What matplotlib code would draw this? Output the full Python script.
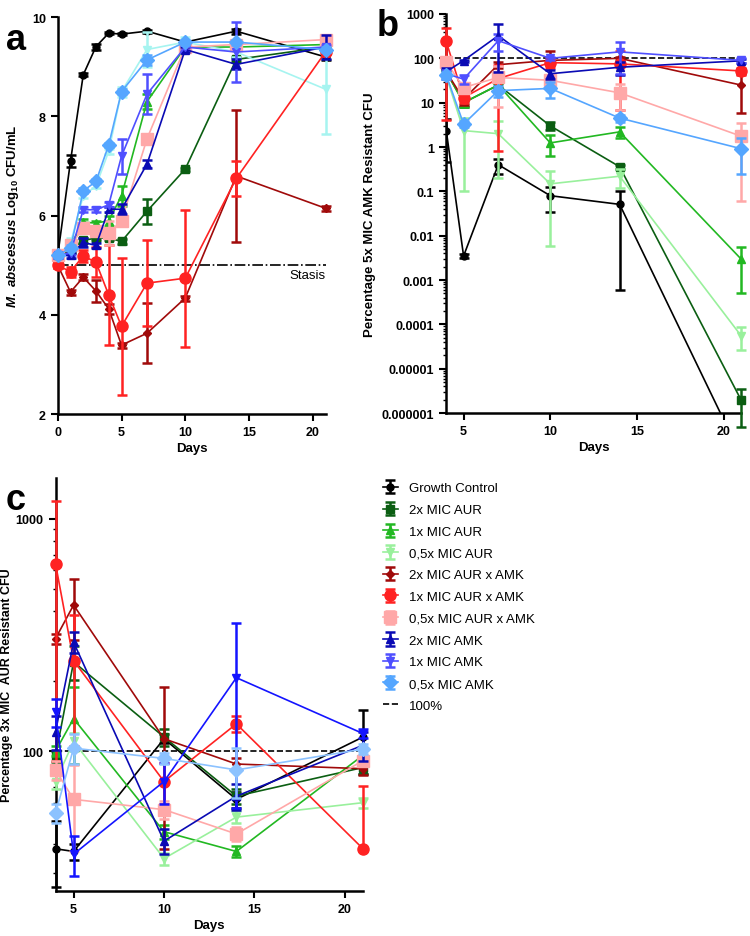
import numpy as np
import matplotlib
matplotlib.use('Agg')
import matplotlib.pyplot as plt
from matplotlib.ticker import LogLocator, NullFormatter

plt.rcParams['font.family'] = ['Liberation Sans', 'DejaVu Sans']
plt.rcParams['mathtext.fontset'] = 'custom'
plt.rcParams['mathtext.rm'] = 'Liberation Sans:bold'
plt.rcParams['mathtext.it'] = 'Liberation Sans:italic:bold'
plt.rcParams['mathtext.bf'] = 'Liberation Sans:bold'

labels = ['Growth Control', '2x MIC AUR', '1x MIC AUR', '0,5x MIC AUR',
          '2x MIC AUR x AMK', '1x MIC AUR x AMK', '0,5x MIC AUR x AMK',
          '2x MIC AMK', '1x MIC AMK', '0,5x MIC AMK']
colors = ['#000000', '#0b5e12', '#22b822', '#99f09c', '#a00a0a', '#ff2222',
          '#ffa8a8', '#0a0ab4', '#4f4fff', '#55a6ff']
markers = ['o', 's', '^', 'v', 'D', 'o', 's', '^', 'v', 'D']
msizes = [5, 6, 6, 6, 4.5, 8, 8, 6, 6, 7]

# ---- panel a: log10 CFU/mL ----
days_a = [0, 1, 2, 3, 4, 5, 7, 10, 14, 21]
a_gc = [5.2, 7.1, 8.84, 9.41, 9.68, 9.66, 9.72, 9.5, 9.72, 9.2]
a_gc_err = [0.05, 0.12, 0.03, 0.06, 0.02, 0.02, 0.03, 0.03, 0.05, 0.07]
a_aur2 = [5.2, 5.3, 5.5, 5.55, 5.55, 5.48, 6.09, 6.94, 9.15, 9.4]
a_aur2_err = [0.05, 0.05, 0.05, 0.05, 0.05, 0.05, 0.25, 0.03, 0.05, 0.05]
a_aur1 = [5.2, 5.4, 5.87, 5.85, 5.9, 6.4, 8.3, 9.4, 9.4, 9.45]
a_aur1_err = [0.05, 0.05, 0.06, 0.05, 0.1, 0.2, 0.15, 0.05, 0.05, 0.05]
a_aur05 = [5.2, 5.45, 6.4, 6.6, 7.3, 8.5, 9.35, 9.5, 9.3, 8.55]
a_aur05_err = [0.05, 0.1, 0.05, 0.05, 0.05, 0.1, 0.35, 0.1, 0.1, 0.9]
a_mix2 = [5.0, 4.46, 4.76, 4.48, 4.12, 3.39, 3.63, 4.34, 6.8, 6.15]
a_mix2_err = [0.05, 0.05, 0.06, 0.22, 0.1, 0.05, 0.6, 0.05, 1.33, 0.05]
a_mix1 = [5.0, 4.87, 5.19, 5.06, 4.4, 3.77, 4.64, 4.74, 6.75, 9.3]
a_mix1_err = [0.05, 0.1, 0.12, 0.3, 1.0, 1.38, 0.86, 1.38, 0.35, 0.05]
a_mix05 = [5.2, 5.4, 5.75, 5.7, 5.65, 5.9, 7.55, 9.4, 9.45, 9.55]
a_mix05_err = [0.05, 0.05, 0.05, 0.05, 0.25, 0.05, 0.1, 0.05, 0.05, 0.05]
a_amk2 = [5.2, 5.2, 5.46, 5.4, 6.13, 6.13, 7.04, 9.35, 9.05, 9.4]
a_amk2_err = [0.05, 0.05, 0.1, 0.05, 0.05, 0.1, 0.08, 0.05, 0.1, 0.25]
a_amk1 = [5.2, 5.25, 6.12, 6.12, 6.22, 7.2, 8.45, 9.4, 9.3, 9.4]
a_amk1_err = [0.05, 0.05, 0.05, 0.05, 0.05, 0.35, 0.4, 0.05, 0.6, 0.05]
a_amk05 = [5.2, 5.35, 6.5, 6.69, 7.43, 8.5, 9.14, 9.5, 9.5, 9.35]
a_amk05_err = [0.05, 0.05, 0.05, 0.04, 0.04, 0.05, 0.1, 0.05, 0.05, 0.05]

# ---- panel b: % 5x MIC AMK resistant ----
days_b = [4, 5, 7, 10, 14, 21]
b_gc = [2.36, 0.0035, 0.4, 0.08, 0.051, 1.1e-7]
b_gc_err = [1.9, 0.0003, 0.15, 0.045, 0.0504, 0]
b_aur2 = [50, 10, 25, 3.0, 0.36, 2e-6]
b_aur2_err = [5, 2, 3, 0.6, 0.04, 1.5e-6]
b_aur1 = [50, 10, 25, 1.24, 2.2, 0.003]
b_aur1_err = [5, 2, 3, 0.6, 0.6, 0.0025]
b_aur05 = [40, 2.35, 2.0, 0.148, 0.22, 5.6e-5]
b_aur05_err = [5, 2.25, 1.8, 0.142, 0.1, 3e-5]
b_mix2 = [50, 12, 72, 90, 100, 25]
b_mix2_err = [10, 3, 10, 60, 10, 19]
b_mix1 = [240, 13, 35, 80, 75, 52]
b_mix1_err = [236, 3, 34.2, 20, 68, 10]
b_mix05 = [82, 22, 37, 32, 16.7, 1.76]
b_mix05_err = [10, 3, 29, 3, 10, 1.7]
b_amk2 = [50, 89, 325, 45, 63, 88]
b_amk2_err = [10, 5, 275, 10, 20, 10]
b_amk1 = [45, 34, 250, 100, 140, 90]
b_amk1_err = [10, 8, 100, 10, 95, 10]
b_amk05 = [42, 3.3, 18.7, 21, 4.5, 0.92]
b_amk05_err = [8, 0.5, 5, 8, 0.8, 0.67]

# ---- panel c: % 3x MIC AUR resistant ----
days_c = [4, 5, 10, 14, 21]
c_gc = [38, 37, 113, 62, 115]
c_gc_err = [12, 3, 5, 5, 35]
c_aur2 = [95, 242, 115, 64, 85]
c_aur2_err = [5, 40, 10, 5, 5]
c_aur1 = [100, 138, 45, 37, 96]
c_aur1_err = [5, 50, 3, 2, 5]
c_aur05 = [74, 110, 34.5, 52, 60]
c_aur05_err = [5, 10, 2, 3, 3]
c_mix2 = [305, 425, 113, 88, 84]
c_mix2_err = [15, 125, 75, 5, 5]
c_mix1 = [641, 245, 74, 131, 38]
c_mix1_err = [550, 140, 15, 10, 33]
c_mix1_lo = [550, 140, 15, 10, 0]   # lower bar not shown at day 21
c_mix05 = [83, 62, 56, 44, 91]
c_mix05_err = [8, 25, 5, 3, 5]
c_amk2 = [121, 294, 41, 64, 106]
c_amk2_err = [20, 30, 5, 8, 15]
c_amk1 = [147, 36, 74, 207, 119]
c_amk1_err = [20, 7, 15, 150, 5]
c_amk05 = [54, 103, 93, 83, 102]
c_amk05_err = [5, 15, 5, 20, 5]

series_a = [(a_gc, a_gc_err), (a_aur2, a_aur2_err), (a_aur1, a_aur1_err), (a_aur05, a_aur05_err),
            (a_mix2, a_mix2_err), (a_mix1, a_mix1_err), (a_mix05, a_mix05_err),
            (a_amk2, a_amk2_err), (a_amk1, a_amk1_err), (a_amk05, a_amk05_err)]
series_b = [(b_gc, b_gc_err), (b_aur2, b_aur2_err), (b_aur1, b_aur1_err), (b_aur05, b_aur05_err),
            (b_mix2, b_mix2_err), (b_mix1, b_mix1_err), (b_mix05, b_mix05_err),
            (b_amk2, b_amk2_err), (b_amk1, b_amk1_err), (b_amk05, b_amk05_err)]
series_c = [(c_gc, c_gc_err), (c_aur2, c_aur2_err), (c_aur1, c_aur1_err), (c_aur05, c_aur05_err),
            (c_mix2, c_mix2_err), (c_mix1, c_mix1_err, c_mix1_lo), (c_mix05, c_mix05_err),
            (c_amk2, c_amk2_err), (c_amk1, c_amk1_err), (c_amk05, c_amk05_err)]

fig = plt.figure(figsize=(7.5, 9.37), dpi=100)
ax_a = fig.add_axes([0.077, 0.557, 0.357, 0.4235])
ax_b = fig.add_axes([0.595, 0.558, 0.393, 0.426])
ax_c = fig.add_axes([0.074, 0.048, 0.41, 0.441])


def draw(ax, days, series, log=False, recolor=None, clip_gc=False):
    recolor = recolor or {}
    handles = []
    for i, s in enumerate(series):
        col = recolor.get(i, colors[i])
        vals = np.array(s[0], dtype=float)
        err = np.array(s[1], dtype=float)
        lo = np.array(s[2], dtype=float) if len(s) > 2 else err
        if log:
            lo = np.minimum(lo, vals * 0.999)
        yerr = [lo, err]
        clip = clip_gc and i == 0
        h = ax.errorbar(days, vals, yerr=yerr, color=col, marker=markers[i],
                        ms=msizes[i], lw=1.2, elinewidth=1.8, capsize=3.5,
                        capthick=1.8, clip_on=clip, zorder=3 + i * 0.1)
        handles.append(h)
    return handles


def style(ax):
    for s in ['top', 'right']:
        ax.spines[s].set_visible(False)
    for s in ['left', 'bottom']:
        ax.spines[s].set_linewidth(1.8)
    ax.tick_params(which='major', length=5, width=1.5, labelsize=9)
    ax.tick_params(which='minor', length=2.5, width=1.0)
    for t in ax.get_xticklabels() + ax.get_yticklabels():
        t.set_fontweight('bold')


# panel a
draw(ax_a, days_a, series_a, recolor={3: '#a6f4f0'})
ax_a.plot([0, 21], [5, 5], color='black', ls='-.', lw=1.2, zorder=2)
ax_a.text(21, 4.93, 'Stasis', ha='right', va='top', fontsize=9.5)
ax_a.set_xlim(0, 21)
ax_a.set_ylim(2, 10)
ax_a.set_xticks([0, 5, 10, 15, 20])
ax_a.set_yticks([2, 4, 6, 8, 10])
ax_a.set_xlabel('Days', fontsize=9.5, fontweight='bold', labelpad=3)
ax_a.set_ylabel(r'$\it{M.\ abscessus}$ Log$_{10}$ CFU/mL', fontsize=9.5, fontweight='bold', labelpad=8)
style(ax_a)

# panel b
handles = draw(ax_b, days_b, series_b, log=True, clip_gc=True)
ax_b.set_yscale('log')
ax_b.plot([4, 21], [100, 100], color='black', ls='--', lw=1.2, zorder=2)
ax_b.set_xlim(4, 21)
ax_b.set_ylim(1e-6, 1000)
ax_b.set_xticks([5, 10, 15, 20])
b_ticks = [1e-6, 1e-5, 1e-4, 1e-3, 1e-2, 1e-1, 1, 10, 100, 1000]
b_ticklabels = ['0.000001', '0.00001', '0.0001', '0.001', '0.01', '0.1', '1', '10', '100', '1000']
ax_b.set_yticks(b_ticks)
ax_b.set_yticklabels(b_ticklabels)
ax_b.yaxis.set_minor_locator(LogLocator(base=10, subs=np.arange(2, 10), numticks=20))
ax_b.yaxis.set_minor_formatter(NullFormatter())
ax_b.set_xlabel('Days', fontsize=9.5, fontweight='bold', labelpad=3)
ax_b.set_ylabel('Percentage 5x MIC AMK Resistant CFU', fontsize=9.5, fontweight='bold', labelpad=4)
style(ax_b)

# panel c
draw(ax_c, days_c, series_c, log=True, recolor={8: '#1414ff', 9: '#8cc2ff'})
ax_c.set_yscale('log')
dash, = ax_c.plot([4, 21], [100, 100], color='black', ls='--', lw=1.2, zorder=2)
ax_c.set_xlim(4, 21)
ax_c.set_ylim(25, 1500)
ax_c.set_xticks([5, 10, 15, 20])
ax_c.set_yticks([100, 1000])
ax_c.set_yticklabels(['100', '1000'])
ax_c.yaxis.set_minor_locator(LogLocator(base=10, subs=np.arange(2, 10), numticks=20))
ax_c.yaxis.set_minor_formatter(NullFormatter())
ax_c.set_xlabel('Days', fontsize=9.5, fontweight='bold', labelpad=3)
ax_c.set_ylabel('Percentage 3x MIC  AUR Resistant CFU', fontsize=9, fontweight='bold', labelpad=2)
style(ax_c)

fig.legend(handles + [dash], labels + ['100%'], loc='upper left',
           bbox_to_anchor=(0.503, 0.49), frameon=False, fontsize=9.5,
           handlelength=1.2, handletextpad=0.8, labelspacing=0.72,
           borderaxespad=0)

fig.text(0.008, 0.975, 'a', fontsize=26, fontweight='bold', va='top')
fig.text(0.502, 0.99, 'b', fontsize=26, fontweight='bold', va='top')
fig.text(0.008, 0.485, 'c', fontsize=26, fontweight='bold', va='top')

fig.savefig('out.png', dpi=100)
